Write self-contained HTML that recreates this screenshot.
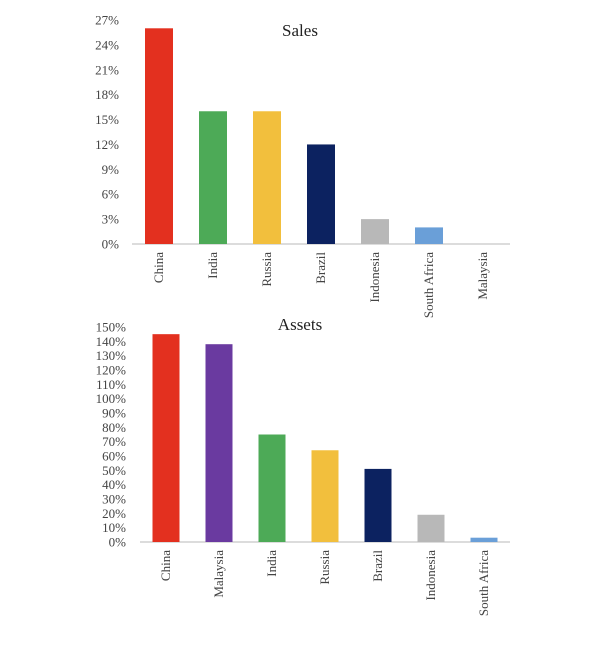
<!DOCTYPE html>
<html><head><meta charset="utf-8"><style>
body{margin:0;background:#fff;width:600px;height:650px;overflow:hidden}
svg text{font-family:"Liberation Serif",serif;fill:#444}
</style></head><body>
<svg id="c" width="600" height="650"></svg>
<script>
const salesCats=["China","India","Russia","Brazil","Indonesia","South Africa","Malaysia"];
const salesVals=[26,16,16,12,3,2,0];
const salesColors=["#e3301f","#4daa57","#f2bf3d","#0c2260","#b8b8b8","#6a9fd8","#888"];
const salesTicks=[0,3,6,9,12,15,18,21,24,27];
const assetCats=["China","Malaysia","India","Russia","Brazil","Indonesia","South Africa"];
const assetVals=[145,138,75,64,51,19,3];
const assetColors=["#e3301f","#6a3aa0","#4daa57","#f2bf3d","#0c2260","#b8b8b8","#6a9fd8"];
const assetTicks=[0,10,20,30,40,50,60,70,80,90,100,110,120,130,140,150];
const NS="http://www.w3.org/2000/svg";
const svg=document.getElementById('c');
function mk(t,a,p){const e=document.createElementNS(NS,t);for(const k in a)e.setAttribute(k,a[k]);(p||svg).appendChild(e);return e;}
function chart(o){
  const g=mk('g',{});
  
  
  const y=v=>o.y0-(v/o.max)*(o.y0-o.yTop);
  const x=i=>o.x0+i*o.step;
  const t=mk('text',{x:300,y:o.titleY,'text-anchor':'middle','font-size':'17',fill:'#222'},g);
  t.textContent=o.title;t.style.fill='#222';
  
  
  o.ticks.forEach(v=>{const e=mk('text',{x:o.labX,y:y(v)+4.5,'text-anchor':'end','font-size':'13'},g);e.textContent=v+'%';
    
    });
  const ax=mk('line',{x1:o.axX1,x2:510,y1:o.y0,y2:o.y0,stroke:'#d0d0d0','stroke-width':1.5},g);
  
  
  o.cats.forEach((c,i)=>{
    const v=o.vals[i];
    const r=mk('rect',{x:x(i)-o.bw/2,y:y(v),width:o.bw,height:o.y0-y(v),fill:o.colors[i]},g);
    
    
    const lx=x(i)+4,ly=o.y0+8;
    const e=mk('text',{x:lx,y:ly,'text-anchor':'end','font-size':'13',transform:`rotate(-90 ${lx} ${ly})`},g);
    e.textContent=c;
    
    
  });
}
chart({name:'sales-chart',title:'Sales',titleY:36,cats:salesCats,vals:salesVals,colors:salesColors,ticks:salesTicks,max:27,y0:244,yTop:20,x0:159,step:54,bw:28,labX:119,axX1:132});
chart({name:'assets-chart',title:'Assets',titleY:330,cats:assetCats,vals:assetVals,colors:assetColors,ticks:assetTicks,max:150,y0:542,yTop:327,x0:166,step:53,bw:27,labX:126,axX1:140});
</script>
</body></html>
